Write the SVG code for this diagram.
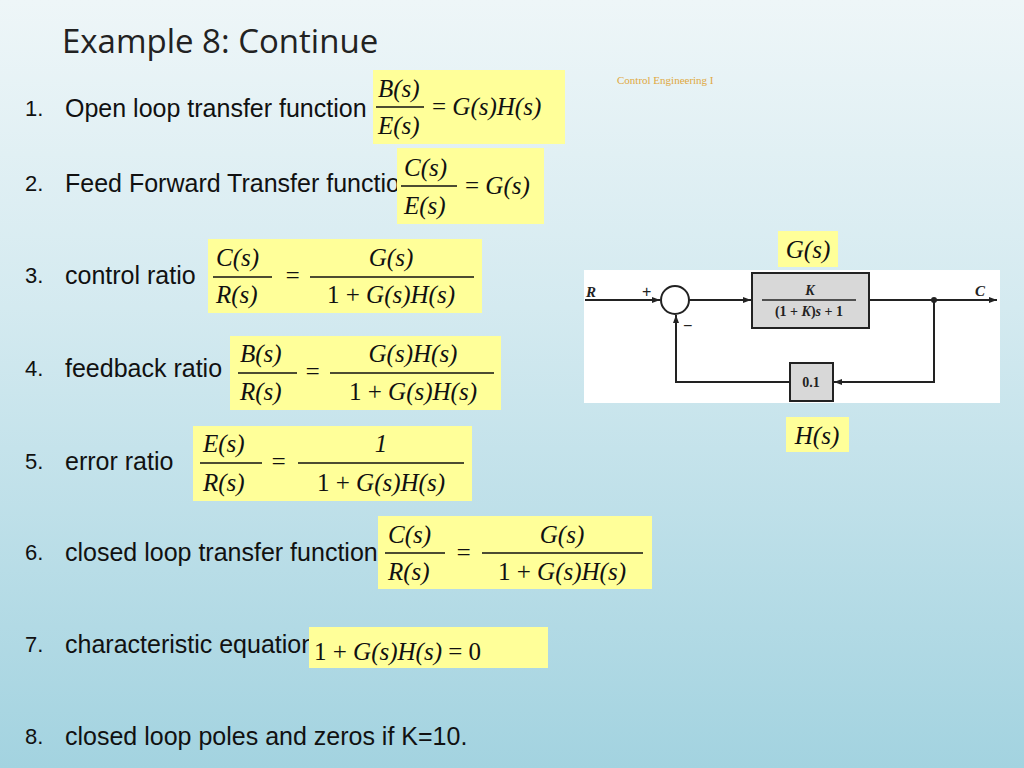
<svg xmlns="http://www.w3.org/2000/svg" width="1024" height="768" viewBox="0 0 1024 768">
<defs>
<linearGradient id="bg" x1="0" y1="0" x2="0" y2="1"><stop offset="0" stop-color="#eef6f8"/><stop offset="0.4" stop-color="#d4eaf0"/><stop offset="1" stop-color="#a3d3e0"/></linearGradient>
<marker id="ar" markerWidth="8" markerHeight="6" refX="8" refY="3" orient="auto" markerUnits="userSpaceOnUse"><path d="M0,0 L8,3 L0,6 z" fill="#222"/></marker>
<clipPath id="c2"><rect x="0" y="150" width="397" height="60"/></clipPath>
<style>
.t{font-family:"Liberation Sans",Arial,sans-serif;font-size:25px;fill:#111}
.n{font-family:"Liberation Sans",Arial,sans-serif;font-size:22px;fill:#111}
.m{font-family:"Liberation Serif","Times New Roman",serif;font-size:25px;font-style:italic;fill:#111}
.mc{font-family:"Liberation Serif","Times New Roman",serif;font-size:25px;font-style:italic;fill:#111;text-anchor:middle}
.y{fill:#ffff99}
.fl{stroke:#111;stroke-width:1.3}
.w{stroke:#222;stroke-width:2;fill:none}
.b{font-family:"Liberation Serif",serif;font-weight:bold;fill:#222}
</style>
</defs>
<rect width="1024" height="768" fill="url(#bg)"/>
<text x="62" y="53" style="font-family:'Open Sans','Liberation Sans',sans-serif;font-size:33px;fill:#222">Example 8: Continue</text>
<text x="617" y="84" style="font-family:'Liberation Serif',serif;font-size:11px;fill:#e0a840">Control Engineering I</text>
<g id="labels">
<text class="n" x="25" y="116">1.</text><text class="t" x="65" y="117">Open loop transfer function</text>
<text class="n" x="25" y="191">2.</text><text class="t" x="65" y="192" clip-path="url(#c2)">Feed Forward Transfer function</text>
<text class="n" x="25" y="283">3.</text><text class="t" x="65" y="284">control ratio</text>
<text class="n" x="25" y="376">4.</text><text class="t" x="65" y="377">feedback ratio</text>
<text class="n" x="25" y="469">5.</text><text class="t" x="65" y="470">error ratio</text>
<text class="n" x="25" y="560">6.</text><text class="t" x="65" y="561">closed loop transfer function</text>
<text class="n" x="25" y="652">7.</text><text class="t" x="65" y="653">characteristic equation</text>
<text class="n" x="25" y="744">8.</text><text class="t" x="65" y="745">closed loop poles and zeros if K=10.</text>
</g>
<g id="eq1"><rect class="y" x="373" y="70" width="192" height="74"/>
<text class="m" x="378" y="97">B(s)</text><line class="fl" x1="376" y1="107" x2="424" y2="107"/><text class="m" x="378" y="134">E(s)</text>
<text class="m" x="432" y="115"><tspan font-style="normal">=</tspan> G(s)H(s)</text></g>
<g id="eq2"><rect class="y" x="397" y="148" width="147" height="76"/>
<text class="m" x="404" y="176">C(s)</text><line class="fl" x1="401" y1="186" x2="457" y2="186"/><text class="m" x="404" y="214">E(s)</text>
<text class="m" x="465" y="194"><tspan font-style="normal">=</tspan> G(s)</text></g>
<g id="eq3"><rect class="y" x="208" y="239" width="274" height="74"/>
<text class="m" x="216" y="266">C(s)</text><line class="fl" x1="213" y1="277" x2="272" y2="277"/><text class="m" x="216" y="303">R(s)</text>
<text class="m" x="284" y="284" font-style="normal">=</text>
<text class="mc" x="391" y="266">G(s)</text><line class="fl" x1="310" y1="277" x2="474" y2="277"/><text class="mc" x="391" y="303"><tspan font-style="normal">1 + </tspan>G(s)H(s)</text></g>
<g id="eq4"><rect class="y" x="230" y="336" width="271" height="74"/>
<text class="m" x="240" y="362">B(s)</text><line class="fl" x1="238" y1="373" x2="297" y2="373"/><text class="m" x="240" y="400">R(s)</text>
<text class="m" x="304" y="380" font-style="normal">=</text>
<text class="mc" x="413" y="362">G(s)H(s)</text><line class="fl" x1="330" y1="373" x2="494" y2="373"/><text class="mc" x="413" y="400"><tspan font-style="normal">1 + </tspan>G(s)H(s)</text></g>
<g id="eq5"><rect class="y" x="193" y="426" width="279" height="75"/>
<text class="m" x="203" y="452">E(s)</text><line class="fl" x1="200" y1="463" x2="262" y2="463"/><text class="m" x="203" y="491">R(s)</text>
<text class="m" x="270" y="470" font-style="normal">=</text>
<text class="mc" x="381" y="452" font-style="normal">1</text><line class="fl" x1="298" y1="463" x2="464" y2="463"/><text class="mc" x="381" y="491"><tspan font-style="normal">1 + </tspan>G(s)H(s)</text></g>
<g id="eq6"><rect class="y" x="378" y="516" width="274" height="73"/>
<text class="m" x="388" y="543">C(s)</text><line class="fl" x1="385" y1="553" x2="445" y2="553"/><text class="m" x="388" y="580">R(s)</text>
<text class="m" x="455" y="561" font-style="normal">=</text>
<text class="mc" x="562" y="543">G(s)</text><line class="fl" x1="482" y1="553" x2="643" y2="553"/><text class="mc" x="562" y="580"><tspan font-style="normal">1 + </tspan>G(s)H(s)</text></g>
<g id="eq7"><rect class="y" x="309" y="627" width="239" height="41"/>
<text class="m" x="314" y="660" font-size="28"><tspan font-style="normal">1 + </tspan>G(s)H(s) <tspan font-style="normal">= 0</tspan></text></g>
<g id="gs"><rect class="y" x="778" y="231" width="60" height="36"/><text class="mc" x="808" y="258">G(s)</text></g>
<g id="hs"><rect class="y" x="786" y="417" width="63" height="35"/><text class="mc" x="817" y="444">H(s)</text></g>
<rect x="584" y="270" width="416" height="133" fill="#fff"/>
<g id="sum"><circle cx="675" cy="300" r="14" class="w"/></g>
<g id="G"><rect x="752" y="273" width="117" height="55" fill="#d8d8d8" stroke="#222" stroke-width="2"/>
<text class="b" x="810" y="295" font-size="14" font-style="italic" text-anchor="middle">K</text>
<line x1="762" y1="300" x2="856" y2="300" stroke="#222" stroke-width="1.3"/>
<text class="b" x="809" y="316" font-size="14" text-anchor="middle">(1 + <tspan font-style="italic">K</tspan>)<tspan font-style="italic">s</tspan> + 1</text></g>
<g id="H"><rect x="790" y="363" width="43" height="38" fill="#d8d8d8" stroke="#222" stroke-width="2"/>
<text class="b" x="811" y="387" font-size="14" text-anchor="middle">0.1</text></g>
<g id="connectors">
<line class="w" x1="585" y1="300" x2="660" y2="300" marker-end="url(#ar)"/>
<line class="w" x1="689" y1="300" x2="751" y2="300" marker-end="url(#ar)"/>
<line class="w" x1="869" y1="300" x2="997" y2="300" marker-end="url(#ar)"/>
<polyline class="w" points="934,300 934,382 834,382" marker-end="url(#ar)"/>
<polyline class="w" points="790,382 676,382 676,315" marker-end="url(#ar)"/>
<circle cx="934" cy="300" r="3" fill="#222"/>
</g>
<text class="b" x="586" y="297" font-size="15" font-style="italic">R</text>
<text class="b" x="975" y="296" font-size="15" font-style="italic">C</text>
<text x="642" y="297" font-family="Liberation Sans,sans-serif" font-size="16" fill="#222">+</text>
<text x="683" y="331" font-family="Liberation Sans,sans-serif" font-size="16" fill="#222">−</text>
</svg>
